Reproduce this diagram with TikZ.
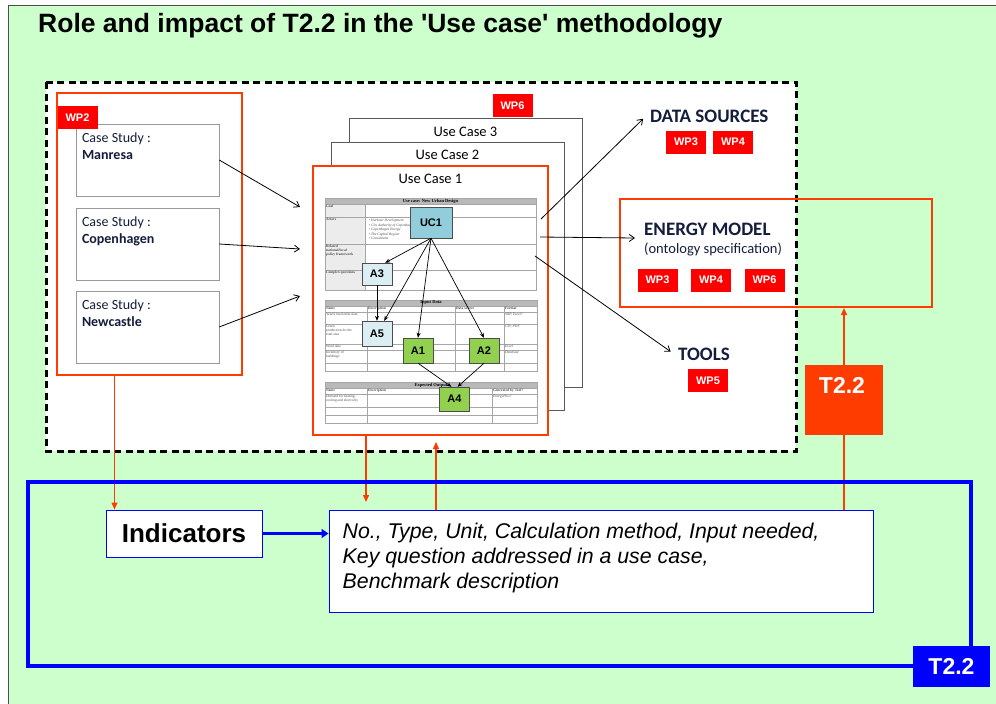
\documentclass[tikz,border=0pt]{standalone}
\usepackage{fontspec}
\setmainfont{Liberation Sans}[Ligatures=TeXOff]
\newfontfamily\calibri{Carlito}
\newfontfamily\docserif{Liberation Serif}
\usetikzlibrary{arrows.meta}

\definecolor{bggreen}{RGB}{204,255,204}
\definecolor{orred}{RGB}{255,60,0}
\definecolor{wpred}{RGB}{255,0,0}
\definecolor{ucblue}{RGB}{146,205,220}
\definecolor{acyan}{RGB}{218,238,243}
\definecolor{agreen}{RGB}{146,208,80}
\definecolor{tabgray}{RGB}{185,185,185}
\definecolor{navyink}{RGB}{20,30,60}
\definecolor{tfblue}{RGB}{0,0,255}

\begin{document}
\begin{tikzpicture}[x=1pt,y=-1pt,
  wplabel/.style={fill=wpred,text=white,font=\bfseries\fontsize{11}{13}\selectfont,minimum width=40pt,minimum height=23pt,inner sep=0pt},
  casebox/.style={draw=gray!80,fill=white,minimum width=143pt,minimum height=72pt,inner sep=0pt},
  casetext/.style={anchor=north west,align=left,inner sep=0pt,text=navyink,font=\calibri\fontsize{14}{17}\selectfont},
  page/.style={draw=gray!70!black,fill=white,minimum width=233pt,inner sep=0pt},
  pagetitle/.style={font=\calibri\fontsize{14.5}{17}\selectfont,inner sep=0pt},
  tabline/.style={draw=gray!70,line width=0.5pt},
  tabhead/.style={font=\docserif\bfseries\fontsize{4.5}{5}\selectfont,inner sep=0pt},
  tabtext/.style={font=\docserif\fontsize{3.6}{4.2}\selectfont,inner sep=0.8pt,anchor=north west,align=left,text=gray!60!black},
  tabbold/.style={tabtext,font=\docserif\bfseries\fontsize{3.6}{4.2}\selectfont},
  docbox/.style={draw=gray!60!black,minimum width=30pt,minimum height=25pt,inner sep=0pt,font=\bfseries\fontsize{11}{13}\selectfont},
  docarrow/.style={-{Stealth[length=5pt,width=4pt]},line width=0.7pt},
  outarrow/.style={-{Straight Barb[length=5pt,width=7pt]},line width=0.8pt},
  heading/.style={font=\calibri\bfseries\fontsize{19}{22}\selectfont,text=navyink,inner sep=4pt},
  orarrow/.style={orred,line width=1.4pt,-{Triangle[length=7pt,width=6pt]}},
  t22/.style={text=white,font=\bfseries\fontsize{23}{26}\selectfont,inner sep=0pt}
]
\useasboundingbox (0,0) rectangle (996,704);
\fill[white] (0,0) rectangle (996,704);
\fill[bggreen] (8,5) rectangle (1000,710);
\draw[black!70,line width=1pt] (8,710) -- (8,5) -- (1000,5);

\node[anchor=base west,inner sep=0pt,font=\bfseries\fontsize{26.5}{30}\selectfont] (title) at (38,32) {Role and impact of T2.2 in the 'Use case' methodology};

\fill[white] (46,82) rectangle (796,451);
\draw[line width=3pt,dash pattern=on 7pt off 4.5pt] (46,82) rectangle (796,451);

% case studies (WP2)
\node[draw=orred,line width=2pt,minimum width=185pt,minimum height=282pt,inner sep=0pt] (wpbox) at (149.5,234) {};
\foreach \i/\city/\y in {1/Manresa/160,2/Copenhagen/244,3/Newcastle/327} {
  \node[casebox] (cs\i) at (147.5,\y) {};
  \node[casetext] (cst\i) at ([xshift=6pt,yshift=-8.5pt]cs\i.north west) {Case Study :\\\textbf{\city}};
}
\node[wplabel] (wptwo) at (77.5,117.5) {WP2};

% use case pages
\node[page,minimum height=269pt] (ucc) at (465.5,252.5) {};
\node[page,minimum height=268pt] (ucb) at (447.5,276) {};
\node[page,draw=orred,line width=2.5pt,minimum width=235pt,minimum height=269pt] (uca) at (430.5,300.5) {};
\node[wplabel] (wpsix) at (512.5,105.5) {WP6};
\node[pagetitle] (ucct) at ([yshift=-14pt]ucc.north) {Use Case 3};
\node[pagetitle] (ucbt) at ([yshift=-13pt]ucb.north) {Use Case 2};
\node[pagetitle] (ucat) at ([yshift=-14pt]uca.north) {Use Case 1};

\foreach \i/\y in {1/207,2/249,3/296} \coordinate (csin\i) at (300,\y);
\foreach \i in {1,2,3} \draw[outarrow] (cs\i.east) -- (csin\i);

% form: use case
\fill[tabgray] (325,198) rectangle (536,204);
\fill[gray!15] (325,204) rectangle (365,290);
\draw[tabline] (325,198) rectangle (536,290);
\foreach \y in {204,217,244,270} \draw[tabline] (325,\y) -- (536,\y);
\draw[tabline] (365,204) -- (365,290);
\node[tabhead] (formhead) at (430.5,201) {Use case: New Urban Design};
\foreach \t/\y [count=\k] in {Goal/204,Actors/217,{Related\\national/local\\policy framework}/244,Complex questions/270}
  \node[tabbold] (formrow\k) at (325,\y) {\t};
\node[tabtext,font=\docserif\itshape\fontsize{3.6}{4.5}\selectfont] (actors) at (368,218) {\textbullet\ Harbour Development\\\textbullet\ City Authority of Copenhagen\\\textbullet\ Copenhagen Energy\\\textbullet\ The Capital Region\\\textbullet\ Consultants};

% form: input data
\fill[tabgray] (325,300) rectangle (537,306);
\draw[tabline] (325,300) rectangle (537,371);
\foreach \y in {306,312,324,344,350,363} \draw[tabline] (325,\y) -- (537,\y);
\foreach \x in {367,455,504} \draw[tabline] (\x,306) -- (\x,371);
\node[tabhead] (inhead) at (431,303) {Input Data};
\foreach \t/\x [count=\k] in {Name/325,Description/367,Data source/455,Format/504}
  \node[tabbold] (incol\k) at (\x,306) {\t};
\foreach \t/\y [count=\k] in {Yearly insolation data/312,{Green\\production for the\\total area}/324,Wind data/344,{Inventory of\\buildings}/350}
  \node[tabtext] (inrow\k) at (325,\y) {\t};
\foreach \t/\y [count=\k] in {{SHP, Excel?}/312,{CSV, PDF}/324,Excel/344,Database/350}
  \node[tabtext,font=\docserif\itshape\fontsize{3.6}{4.2}\selectfont] (infmt\k) at (504,\y) {\t};

% form: expected output
\fill[tabgray] (325,382) rectangle (537,388);
\draw[tabline] (325,382) rectangle (537,423);
\foreach \y in {388,394,407,415} \draw[tabline] (325,\y) -- (537,\y);
\foreach \x in {367,492} \draw[tabline] (\x,388) -- (\x,423);
\node[tabhead] (outhead) at (431,385) {Expected Output};
\foreach \t/\x [count=\k] in {Name/325,Description/367,Generated by Tool?/492}
  \node[tabbold] (outcol\k) at (\x,388) {\t};
\node[tabtext] (outrow) at (325,394) {Demand for heating,\\cooling and electricity};
\node[tabtext,font=\docserif\itshape\fontsize{3.6}{4.2}\selectfont] (outtool) at (492,394) {EnergyPlus?};

% activities
\node[docbox,fill=ucblue,minimum width=42pt,minimum height=31pt] (ucone) at (431,222.5) {UC1};
\node[docbox,fill=acyan,minimum height=22pt] (athree) at (377,274) {A3};
\node[docbox,fill=acyan] (afive) at (377,333.5) {A5};
\node[docbox,fill=agreen] (aone) at (418,350.5) {A1};
\node[docbox,fill=agreen] (atwo) at (484,350.5) {A2};
\node[docbox,fill=agreen,minimum height=24pt] (afour) at (454.5,399) {A4};
\draw[docarrow] (ucone.south) -- ([xshift=-7pt]athree.north east);
\draw[docarrow] (ucone.south) -- ([xshift=-8pt]afive.north east);
\draw[docarrow] (ucone.south) -- (aone.north);
\draw[docarrow] (ucone.south) -- (atwo.north);
\draw[docarrow] (athree.south) -- (afive.north);
\draw[docarrow] (aone.south) -- ([xshift=-3pt]afour.north);
\draw[docarrow] (atwo.south) -- ([xshift=3pt]afour.north);

% outputs
\coordinate (dsout) at (541,219);
\coordinate (emout) at (540,237);
\coordinate (tlout) at (535,256);
\node[heading,anchor=west] (dsrc) at (646,116) {DATA SOURCES};
\node[wplabel] (dswpa) at (686,142) {WP3};
\node[wplabel] (dswpb) at (733,142) {WP4};

\node[draw=orred,line width=2pt,minimum width=312pt,minimum height=108pt,inner sep=0pt] (embox) at (776,253) {};
\node[heading,anchor=west] (emtitle) at (640,229) {ENERGY MODEL};
\node[anchor=west,inner sep=4pt,text=navyink,font=\calibri\fontsize{14.5}{17}\selectfont] (emsub) at (640,249) {(ontology specification)};
\coordinate (emin) at (635,238);
\foreach \n/\x/\t in {emwpa/657.5/WP3,emwpb/711/WP4,emwpc/764.5/WP6}
  \node[wplabel] (\n) at (\x,280) {\t};

\node[heading,anchor=west] (tools) at (674,354) {TOOLS};
\node[wplabel] (tlwp) at (708,380.5) {WP5};

\draw[outarrow,shorten >=4pt] (dsout) -- (dsrc.west);
\draw[outarrow] (emout) -- (emin);
\draw[outarrow,shorten >=4pt] (tlout) -- (tools.west);

% T2.2
\node[fill=orred,minimum width=78pt,minimum height=70pt,inner sep=0pt] (torange) at (844,400) {};
\node[t22] (torangetxt) at ([xshift=-2pt,yshift=15pt]torange.center) {T2.2};

\node[draw=tfblue,fill=white,line width=1pt,minimum width=156pt,minimum height=47pt,inner sep=0pt,font=\bfseries\fontsize{26}{29}\selectfont] (indic) at (184,533.5) {Indicators};
\node[draw=tfblue,fill=white,line width=1pt,minimum width=544pt,minimum height=102pt,inner sep=0pt] (desc) at (601,561) {};
\node[anchor=north west,align=left,inner sep=0pt,font=\itshape\fontsize{21.3}{25}\selectfont] (desctxt) at ([xshift=14pt,yshift=-13pt]desc.north west) {No., Type, Unit, Calculation method, Input needed,\\Key question addressed in a use case,\\Benchmark description};
\draw[-{Triangle[length=7pt,width=9pt]},tfblue,line width=3pt] (indic.east) -- (indic.east -| desc.west);

\draw[orarrow] (torange.north) -- (torange.north |- embox.south);
\draw[orred,line width=1.4pt] (torange.south) -- (torange.south |- desc.north);
\coordinate (indtop) at ([xshift=9pt]indic.north west);
\draw[orarrow] (indtop |- wpbox.south) -- (indtop);
\coordinate (ucdown) at (366,502);
\draw[orarrow] (ucdown |- uca.south) -- (ucdown);
\coordinate (ucup) at (436,442);
\draw[orarrow] (ucup |- desc.north) -- (ucup);

\draw[tfblue,line width=4pt] (28,482) rectangle (971,666);
\node[fill=tfblue,minimum width=77pt,minimum height=41pt,inner sep=0pt,t22] (tblue) at (951.5,666.5) {T2.2};
\end{tikzpicture}
\end{document}
